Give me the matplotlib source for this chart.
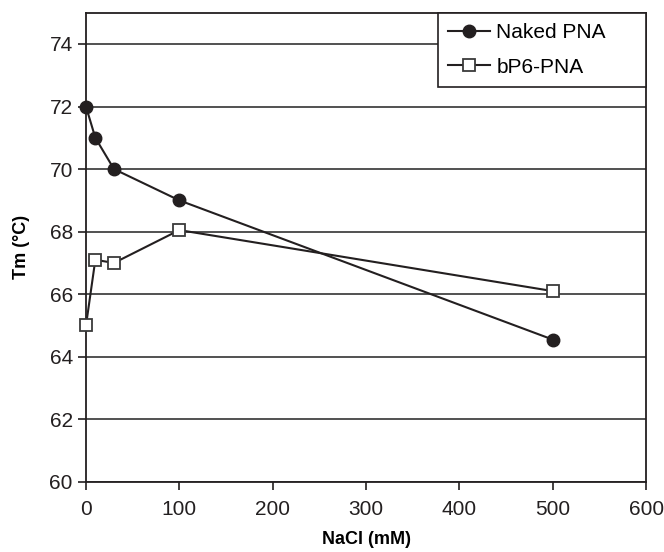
import matplotlib
matplotlib.use("Agg")
import matplotlib.pyplot as plt

plt.rcParams["font.family"] = ["Liberation Sans", "DejaVu Sans"]

nacl = [0, 10, 30, 100, 500]
naked_pna = [72.0, 71.0, 70.0, 69.0, 64.55]
bp6_pna = [65.0, 67.1, 67.0, 68.05, 66.1]

fig = plt.figure(figsize=(6.64, 5.52), dpi=100)
ax = fig.add_axes([0.1295, 0.127, 0.8435, 0.85])

ax.plot(nacl, naked_pna, color="#231f20", lw=1.5, marker="o", ms=9,
        mfc="#231f20", mec="#231f20", label="Naked PNA", zorder=3, clip_on=False)
ax.plot(nacl, bp6_pna, color="#231f20", lw=1.5, marker="s", ms=8.5,
        mfc="white", mec="#3a3a3a", mew=1.3, label="bP6-PNA", zorder=3, clip_on=False)

ax.set_xlim(0, 600)
ax.set_ylim(60, 75)
ax.set_xticks(range(0, 601, 100))
ax.set_yticks(range(60, 75, 2))
ax.yaxis.grid(True, color="#333333", lw=1.2)
ax.set_axisbelow(True)

for s in ax.spines.values():
    s.set_color("#231f20")
    s.set_linewidth(1.3)

ax.tick_params(axis="both", labelsize=15, colors="#231f20", length=6, width=1.2)
ax.tick_params(axis="x", pad=7)
ax.set_xlabel("NaCl (mM)", fontsize=13, fontweight="bold", labelpad=9)
ax.set_ylabel("Tm (°C)", fontsize=13, fontweight="bold", labelpad=14)

leg = ax.legend(loc="upper right", bbox_to_anchor=(0.6286, 0, 0.3714, 1),
                mode="expand", fontsize=15, frameon=True, fancybox=False,
                borderaxespad=0, edgecolor="#231f20", handlelength=2.0,
                borderpad=0.5, labelspacing=0.75, handletextpad=0.3)
leg.get_frame().set_linewidth(1.2)
leg.get_frame().set_alpha(1)

fig.savefig("out.png", dpi=100)
